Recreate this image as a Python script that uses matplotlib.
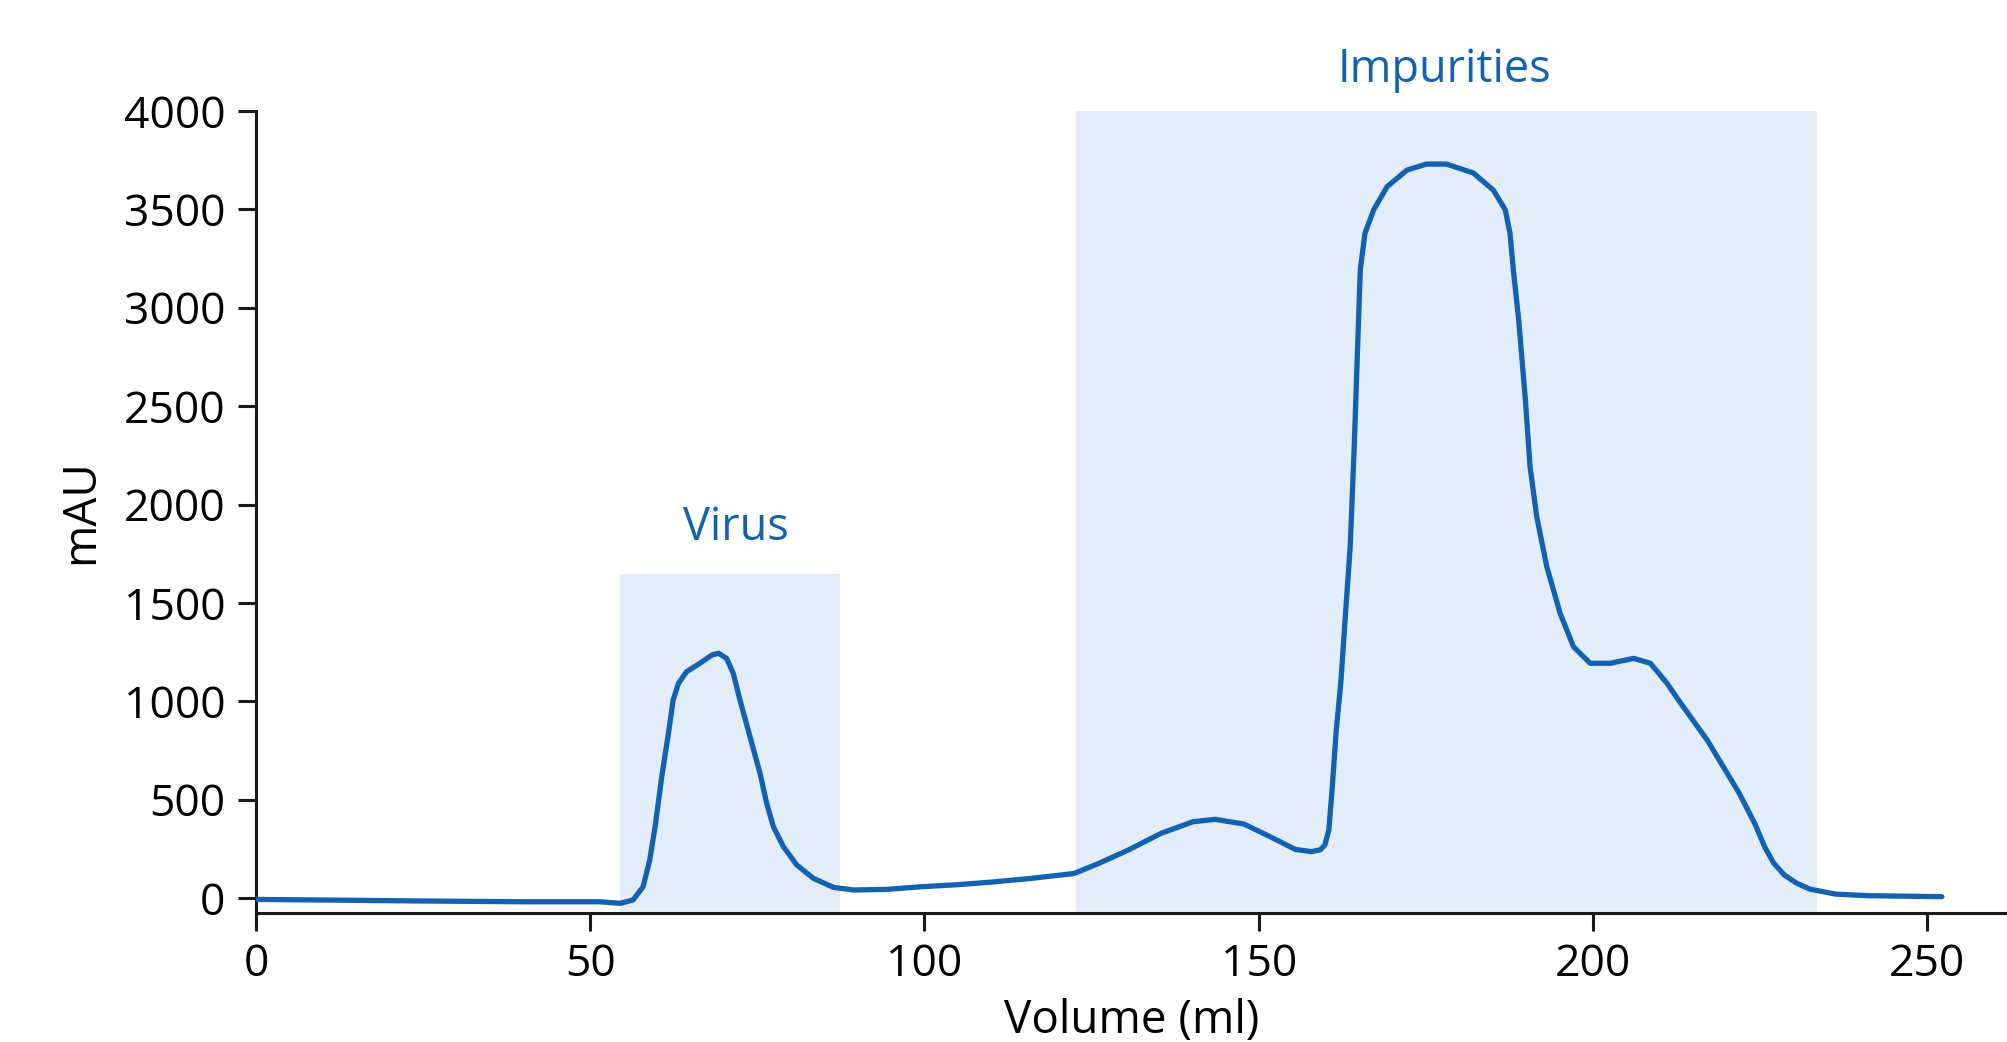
import numpy as np
import matplotlib
matplotlib.use("Agg")
import matplotlib.pyplot as plt

plt.rcParams['font.family'] = ['Open Sans', 'DejaVu Sans']

# chromatogram trace (ml, mAU)
volume = [0, 10, 25, 40, 51.5, 54.5, 56.4, 57.9, 58.9, 59.7, 60.7, 61.7,
          62.4, 63.2, 64.4, 66.4, 68.2, 69.2, 70.4, 71.4, 72.4, 73.9, 75.4,
          76.4, 77.4, 78.9, 80.9, 83.4, 86.4, 89.4, 94.4, 99.3, 105, 110, 116,
          122.4, 126, 130.5, 135.4, 140.2, 143.5, 147.8, 151.7, 155.5, 157.9,
          159.2, 159.9, 160.5, 161.0, 161.6, 162.3, 163.0, 163.7, 164.3, 164.8,
          165.2, 165.9, 167.2, 169.2, 172.2, 175.1, 178.1, 182.1, 185.1, 186.9,
          187.6, 188.1, 188.9, 189.9, 190.6, 191.6, 193.1, 195.1, 197.1, 199.6,
          202.6, 206.1, 208.6, 211.1, 212.8, 217.1, 221.9, 224.2, 225.7, 227,
          228.6, 230.5, 232.5, 236.3, 241.1, 252.2]
mau = [-7, -10, -15, -19, -19, -27, -10, 57, 193, 362, 617, 837, 1006, 1091,
       1150, 1193, 1235, 1244, 1218, 1142, 1006, 820, 634, 481, 362, 261, 168,
       100, 54, 41, 44, 57, 68, 81, 100, 125, 175, 244, 329, 388, 400, 376,
       312, 247, 236, 245, 269, 346, 560, 850, 1100, 1450, 1790, 2300, 2800,
       3192, 3378, 3497, 3615, 3700, 3730, 3730, 3685, 3598, 3497, 3378, 3192,
       2938, 2531, 2192, 1938, 1684, 1447, 1277, 1193, 1193, 1218, 1193, 1091,
       1006, 803, 532, 380, 260, 180, 118, 75, 45, 20, 12, 7]

# shaded fractions: (start, end, top, label, label x, label y)
region_names = ['Virus', 'Impurities']
region_start = [54.5, 122.6]
region_end = [87.3, 233.6]
region_top = [1648, 4000]
label_x = [71.8, 177.8]
label_y = [1882, 4206]

blue = '#1262b1'
shade = '#e2edf7'

fig = plt.figure(figsize=(20.08, 10.42), dpi=100)
ax = fig.add_axes([0.1275, 0.1238, 0.8725, 0.7697])

for i in range(len(region_names)):
    ax.fill_between([region_start[i], region_end[i]], -80, region_top[i],
                    color=shade, lw=0, zorder=1)
    ax.text(label_x[i], label_y[i], region_names[i], color=blue,
            fontsize=32.5, ha='center', va='center')

ax.plot(volume, mau, color=blue, lw=3.8, zorder=3,
        solid_joinstyle='round', solid_capstyle='round')

ax.set_xlim(0, 262.1)
ax.set_ylim(-76, 4000)
ax.set_xticks([0, 50, 100, 150, 200, 250])
ax.set_yticks(np.arange(0, 4001, 500))

for s in ['top', 'right']:
    ax.spines[s].set_visible(False)
for s in ['left', 'bottom']:
    ax.spines[s].set_linewidth(2.2)
    ax.spines[s].set_color('#1a1a1a')
ax.spines['left'].set_bounds(-76, 4000)

ax.tick_params(axis='both', labelsize=32, length=13, width=2.2,
               color='#1a1a1a')
ax.tick_params(axis='y', pad=9)
ax.tick_params(axis='x', pad=8)
ax.set_xlabel('Volume (ml)', fontsize=33, labelpad=8)
ax.set_ylabel('mAU', fontsize=33, labelpad=14)

plt.savefig('out.png', dpi=100)
plt.close()
